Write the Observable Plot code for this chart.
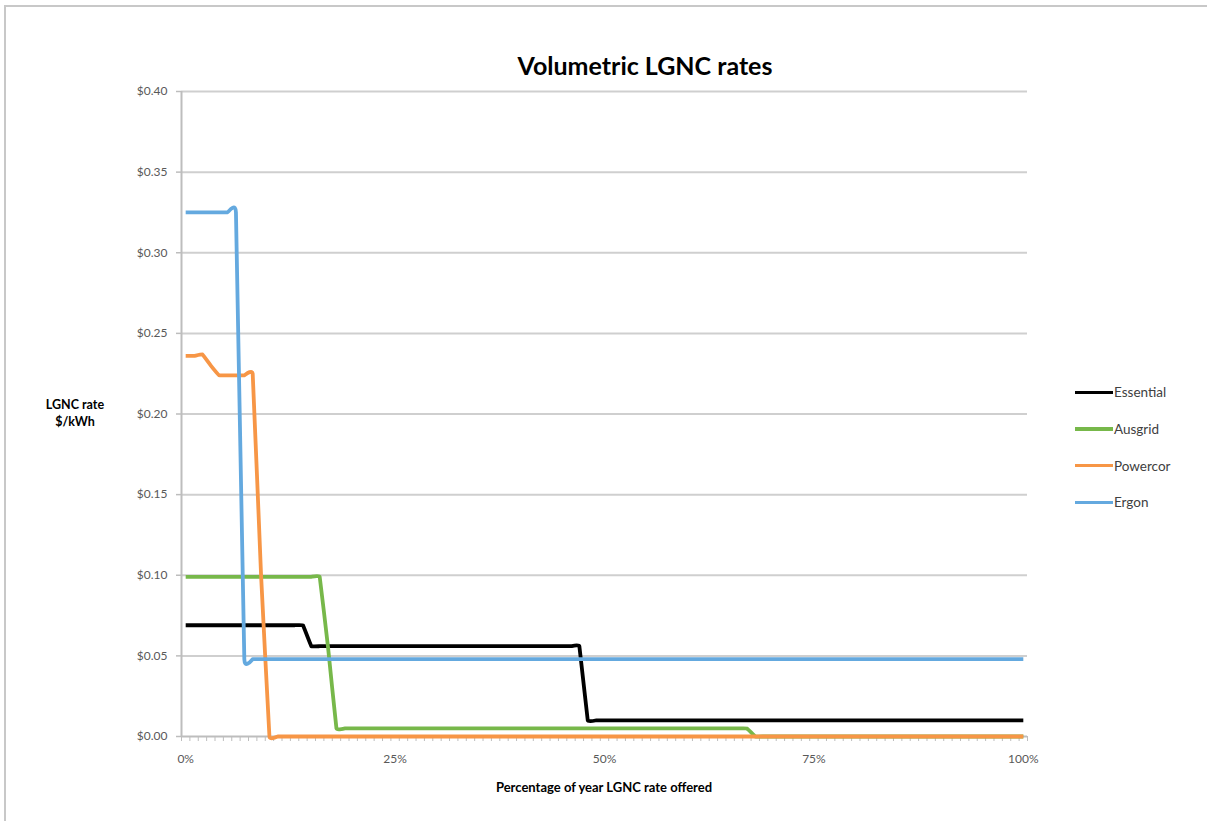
<!DOCTYPE html>
<html>
<head>
<meta charset="utf-8">
<script src="https://cdn.jsdelivr.net/npm/d3@7"></script>
<script src="https://cdn.jsdelivr.net/npm/@observablehq/plot@0.6"></script>
<style>
  html, body { margin: 0; padding: 0; background: #fff; overflow: hidden; }
  #wrap { position: relative; width: 1207px; height: 821px; font-family: Lato, "Open Sans", sans-serif; }
  #frame { position: absolute; left: 4px; top: 5px; width: 1220px; height: 830px; border: 2px solid #c8c8c8; box-sizing: border-box; }
  #chart { position: absolute; left: 0; top: 0; }
  .title { position: absolute; left: 0; width: 1290px; top: 50px; text-align: center; font-size: 25px; font-weight: bold; color: #000; }
  .ylab { position: absolute; left: 35px; width: 80px; top: 396px; text-align: center; font-size: 12.5px; font-weight: bold; line-height: 17px; color: #000; }
  .xlab { position: absolute; left: 0; width: 1208px; top: 779px; text-align: center; font-size: 13px; font-weight: bold; color: #000; }
  .legend { position: absolute; left: 1075px; top: 374px; font-size: 13.5px; color: #404040; }
  .legend .item { display: flex; align-items: center; height: 36.7px; }
  .legend .sw { width: 38px; height: 3.5px; margin-right: 1px; }
</style>
</head>
<body>
<div id="wrap">
  <div id="frame"></div>
  <div id="chart"></div>
  <div class="title">Volumetric LGNC rates</div>
  <div class="ylab">LGNC rate<br>$/kWh</div>
  <div class="xlab">Percentage of year LGNC rate offered</div>
  <div class="legend" id="legend"></div>
</div>
<script>
// Categories: percentage of year (0..100)
const percent = [
  0,1,2,3,4,5,6,7,8,9,
  10,11,12,13,14,15,16,17,18,19,
  20,21,22,23,24,25,26,27,28,29,
  30,31,32,33,34,35,36,37,38,39,
  40,41,42,43,44,45,46,47,48,49,
  50,51,52,53,54,55,56,57,58,59,
  60,61,62,63,64,65,66,67,68,69,
  70,71,72,73,74,75,76,77,78,79,
  80,81,82,83,84,85,86,87,88,89,
  90,91,92,93,94,95,96,97,98,99,
  100
];

const seriesNames = ["Essential", "Ausgrid", "Powercor", "Ergon"];
const seriesColors = ["#000000", "#77b84a", "#f79646", "#64a9df"];

const essential = [
  0.069,0.069,0.069,0.069,0.069,0.069,0.069,0.069,0.069,0.069,
  0.069,0.069,0.069,0.069,0.069,0.056,0.056,0.056,0.056,0.056,
  0.056,0.056,0.056,0.056,0.056,0.056,0.056,0.056,0.056,0.056,
  0.056,0.056,0.056,0.056,0.056,0.056,0.056,0.056,0.056,0.056,
  0.056,0.056,0.056,0.056,0.056,0.056,0.056,0.056,0.010,0.010,
  0.010,0.010,0.010,0.010,0.010,0.010,0.010,0.010,0.010,0.010,
  0.010,0.010,0.010,0.010,0.010,0.010,0.010,0.010,0.010,0.010,
  0.010,0.010,0.010,0.010,0.010,0.010,0.010,0.010,0.010,0.010,
  0.010,0.010,0.010,0.010,0.010,0.010,0.010,0.010,0.010,0.010,
  0.010,0.010,0.010,0.010,0.010,0.010,0.010,0.010,0.010,0.010,
  0.010
];

const ausgrid = [
  0.099,0.099,0.099,0.099,0.099,0.099,0.099,0.099,0.099,0.099,
  0.099,0.099,0.099,0.099,0.099,0.099,0.099,0.055,0.005,0.005,
  0.005,0.005,0.005,0.005,0.005,0.005,0.005,0.005,0.005,0.005,
  0.005,0.005,0.005,0.005,0.005,0.005,0.005,0.005,0.005,0.005,
  0.005,0.005,0.005,0.005,0.005,0.005,0.005,0.005,0.005,0.005,
  0.005,0.005,0.005,0.005,0.005,0.005,0.005,0.005,0.005,0.005,
  0.005,0.005,0.005,0.005,0.005,0.005,0.005,0.005,0,0,
  0,0,0,0,0,0,0,0,0,0,
  0,0,0,0,0,0,0,0,0,0,
  0,0,0,0,0,0,0,0,0,0,
  0
];

const powercor = [
  0.236,0.236,0.237,0.230,0.224,0.224,0.224,0.224,0.225,0.100,
  0,0,0,0,0,0,0,0,0,0,
  0,0,0,0,0,0,0,0,0,0,
  0,0,0,0,0,0,0,0,0,0,
  0,0,0,0,0,0,0,0,0,0,
  0,0,0,0,0,0,0,0,0,0,
  0,0,0,0,0,0,0,0,0,0,
  0,0,0,0,0,0,0,0,0,0,
  0,0,0,0,0,0,0,0,0,0,
  0,0,0,0,0,0,0,0,0,0,
  0
];

const ergon = [
  0.325,0.325,0.325,0.325,0.325,0.325,0.325,0.048,0.048,0.048,
  0.048,0.048,0.048,0.048,0.048,0.048,0.048,0.048,0.048,0.048,
  0.048,0.048,0.048,0.048,0.048,0.048,0.048,0.048,0.048,0.048,
  0.048,0.048,0.048,0.048,0.048,0.048,0.048,0.048,0.048,0.048,
  0.048,0.048,0.048,0.048,0.048,0.048,0.048,0.048,0.048,0.048,
  0.048,0.048,0.048,0.048,0.048,0.048,0.048,0.048,0.048,0.048,
  0.048,0.048,0.048,0.048,0.048,0.048,0.048,0.048,0.048,0.048,
  0.048,0.048,0.048,0.048,0.048,0.048,0.048,0.048,0.048,0.048,
  0.048,0.048,0.048,0.048,0.048,0.048,0.048,0.048,0.048,0.048,
  0.048,0.048,0.048,0.048,0.048,0.048,0.048,0.048,0.048,0.048,
  0.048
];

const yTicks = [0, 0.05, 0.10, 0.15, 0.20, 0.25, 0.30, 0.35, 0.40];
const xLabelTicks = [0, 25, 50, 75, 100];
const xLabels = ["0%", "25%", "50%", "75%", "100%"];
// category boundaries (minor tick marks)
const xMinorTicks = percent.map(p => p - 0.5).concat([100.5]);

const allSeries = [essential, ausgrid, powercor, ergon];
const rows = [];
seriesNames.forEach((name, i) => {
  percent.forEach((p, j) => rows.push({series: name, x: p, y: allSeries[i][j]}));
});

// Excel draws series in order: the last one sits on top
const lineMarks = seriesNames.map((name, i) =>
  Plot.line(rows.filter(r => r.series === name), {
    x: "x", y: "y", stroke: seriesColors[i], strokeWidth: 3.8,
    curve: "cardinal", tension: 0.85,
    strokeLinejoin: "round", strokeLinecap: "butt"
  })
);

const chart = Plot.plot({
  width: 1207,
  height: 821,
  marginLeft: 181,
  marginRight: 180,
  marginTop: 91,
  marginBottom: 85,
  style: {fontFamily: "Lato, 'Open Sans', sans-serif", background: "transparent", overflow: "visible"},
  x: {domain: [-0.5, 100.5], axis: null},
  y: {domain: [0, 0.40], axis: null},
  marks: [
    Plot.ruleY(yTicks.slice(1), {stroke: "#cfcfcf", strokeWidth: 2}),
    Plot.axisY(yTicks, {
      tickSize: 5, tickPadding: 9, stroke: "#bdbdbd", strokeWidth: 1.5,
      tickFormat: d => "$" + d.toFixed(2), fontSize: 12, fill: "#595959", label: null
    }),
    Plot.axisX(xMinorTicks, {
      tickSize: 5, tickPadding: 0, stroke: "#bdbdbd", strokeWidth: 1,
      tickFormat: () => "", label: null
    }),
    Plot.axisX(xLabelTicks, {
      tickSize: 0, tickPadding: 18, tickFormat: d => xLabels[xLabelTicks.indexOf(d)],
      fontSize: 12, fill: "#595959", label: null
    }),
    Plot.ruleX([-0.5], {stroke: "#bdbdbd", strokeWidth: 2}),
    Plot.ruleY([0], {stroke: "#bdbdbd", strokeWidth: 2}),
    ...lineMarks
  ]
});
document.getElementById("chart").appendChild(chart);

const legend = document.getElementById("legend");
seriesNames.forEach((name, i) => {
  const item = document.createElement("div");
  item.className = "item";
  const sw = document.createElement("div");
  sw.className = "sw";
  sw.style.background = seriesColors[i];
  const label = document.createElement("span");
  label.textContent = name;
  item.appendChild(sw);
  item.appendChild(label);
  legend.appendChild(item);
});
</script>
</body>
</html>
